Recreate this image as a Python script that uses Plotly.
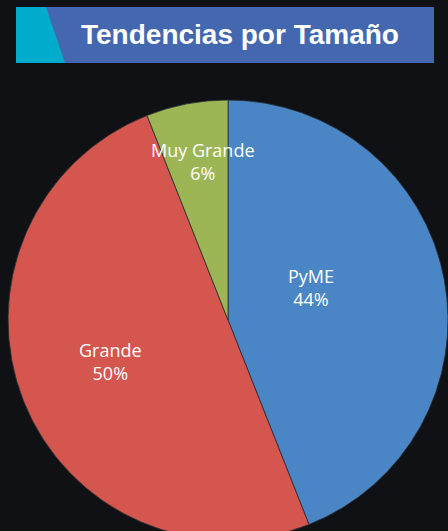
import plotly.graph_objects as go

labels = ["PyME", "Grande", "Muy Grande"]
values = [44, 50, 6]
colors = ["#4a86c6", "#d5554f", "#9db655"]
title_text = "Tendencias por Tamaño"

W, H = 448, 540
BG = "#0f1115"

def px(x):
    return x / W

def py(y):
    return 1 - y / H

fig = go.Figure(go.Pie(
    labels=labels,
    values=values,
    sort=False,
    direction="clockwise",
    rotation=0,
    marker=dict(colors=colors, line=dict(color="#2a2d33", width=0.8)),
    textinfo="none",
    hoverinfo="label+percent",
    showlegend=False,
    domain=dict(x=[px(8), px(448)], y=[py(540), py(100)]),
))

shapes = [
    dict(type="rect", xref="paper", yref="paper", x0=px(16), x1=px(434), y0=py(63), y1=py(7),
         fillcolor="#4468b0", line=dict(width=0), layer="below"),
    dict(type="path", xref="paper", yref="paper",
         path=f"M {px(16)},{py(7)} L {px(46)},{py(7)} L {px(65)},{py(63)} L {px(16)},{py(63)} Z",
         fillcolor="#00abcb", line=dict(width=0), layer="below"),
]

# label block centre (screen px) for each slice
label_pos = {"PyME": (311, 287), "Grande": (110, 361.5), "Muy Grande": (203, 161)}
total = sum(values)
annotations = [dict(text=f"<b>{title_text}</b>", xref="paper", yref="paper",
                    x=px(240.5), y=py(35), showarrow=False, xanchor="center", yanchor="middle",
                    font=dict(family="Liberation Sans", size=28, color="white"))]
for lab, val in zip(labels, values):
    cx, cy = label_pos[lab]
    pct = f"{round(100 * val / total)}%"
    annotations.append(dict(text=f"{lab}<br>{pct}", xref="paper", yref="paper", x=px(cx), y=py(cy),
                            showarrow=False, xanchor="center", yanchor="middle", align="center",
                            font=dict(family="Open Sans", size=18, color="white")))

fig.update_layout(
    width=W, height=H,
    margin=dict(l=0, r=0, t=0, b=0),
    paper_bgcolor=BG, plot_bgcolor=BG,
    shapes=shapes,
    annotations=annotations,
)

fig.write_html("out.html", config={"displayModeBar": False},
               post_script="document.body.style.margin='0';document.body.style.overflow='hidden';document.documentElement.style.overflow='hidden';document.body.style.background='#0f1115';")
